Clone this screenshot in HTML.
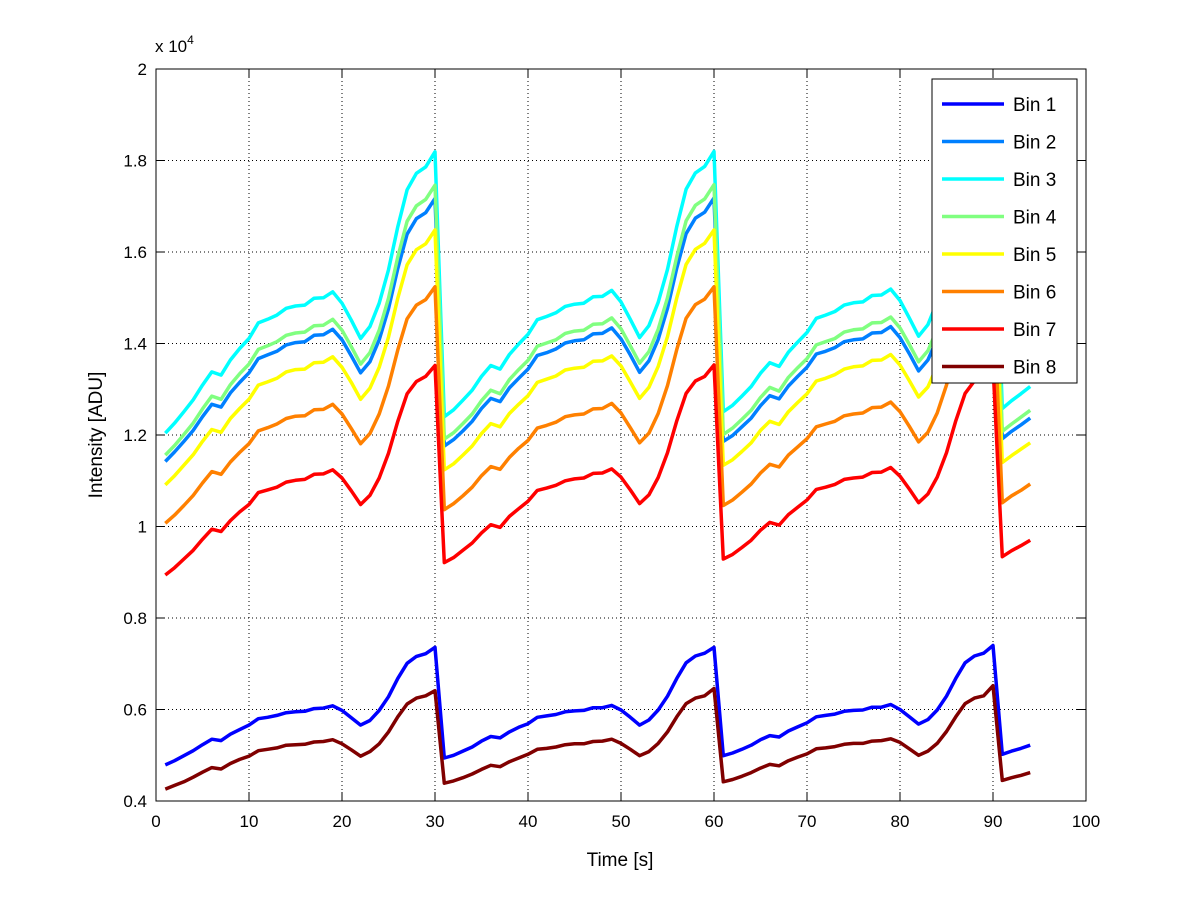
<!DOCTYPE html>
<html><head><meta charset="utf-8"><style>
html,body{margin:0;padding:0;background:#fff;}
svg{display:block;font-family:"Liberation Sans",sans-serif;}
</style></head><body>
<svg id="chart" width="1200" height="901" viewBox="0 0 1200 901">
<rect x="0" y="0" width="1200" height="901" fill="#fff"/>
<g id="grid"></g>
<g id="series"></g>
<g id="axes"></g>
<text x="155" y="52" font-size="17">x 10<tspan dy="-8" font-size="12">4</tspan></text>
<text x="620" y="866" font-size="19" text-anchor="middle">Time [s]</text>
<text x="0" y="0" font-size="19" text-anchor="middle" transform="translate(102,435) rotate(-90)">Intensity [ADU]</text>
<g id="legend"></g>
</svg>
<script>
const xTicks=[0,10,20,30,40,50,60,70,80,90,100];
const yTicks=[0.4,0.6,0.8,1,1.2,1.4,1.6,1.8,2];
const yTickLabels=["0.4","0.6","0.8","1","1.2","1.4","1.6","1.8","2"];
const binNames=["Bin 1","Bin 2","Bin 3","Bin 4","Bin 5","Bin 6","Bin 7","Bin 8"];
const bin1=[.479,.488,.499,.510,.523,.535,.532,.546,.556,.566,.580,.583,.587,.593,.595,.596,.602,.603,.608,.598,.582,.566,.576,.598,.628,.668,.701,.716,.722,.736,
.494,.500,.509,.518,.531,.541,.538,.551,.561,.569,.583,.586,.589,.595,.597,.598,.604,.604,.609,.599,.583,.566,.577,.599,.629,.668,.702,.717,.723,.736,
.499,.505,.513,.522,.534,.543,.540,.553,.562,.571,.584,.587,.590,.596,.598,.599,.605,.605,.611,.600,.584,.568,.578,.599,.629,.668,.702,.717,.723,.740,
.502,.509,.515,.522];
const bin2=[1.142,1.163,1.186,1.210,1.240,1.267,1.261,1.292,1.315,1.336,1.367,1.375,1.383,1.397,1.402,1.404,1.418,1.419,1.431,1.408,1.373,1.336,1.360,1.408,1.476,1.564,1.639,1.673,1.686,1.717,
1.176,1.190,1.209,1.230,1.258,1.280,1.273,1.303,1.324,1.344,1.374,1.380,1.388,1.401,1.406,1.408,1.421,1.422,1.434,1.410,1.375,1.337,1.362,1.409,1.477,1.565,1.640,1.674,1.687,1.718,
1.186,1.199,1.218,1.237,1.264,1.286,1.279,1.307,1.328,1.348,1.377,1.383,1.391,1.404,1.408,1.410,1.423,1.424,1.437,1.413,1.378,1.340,1.364,1.410,1.478,1.565,1.640,1.674,1.687,1.718,
1.192,1.208,1.222,1.237];
const bin3=[1.204,1.226,1.251,1.277,1.309,1.338,1.331,1.364,1.389,1.411,1.445,1.453,1.462,1.477,1.482,1.484,1.499,1.500,1.513,1.488,1.451,1.411,1.437,1.488,1.561,1.655,1.736,1.772,1.786,1.819,
1.240,1.255,1.276,1.298,1.328,1.352,1.344,1.376,1.399,1.420,1.452,1.459,1.467,1.481,1.486,1.488,1.502,1.503,1.516,1.491,1.453,1.413,1.439,1.490,1.562,1.656,1.737,1.773,1.787,1.820,
1.251,1.265,1.285,1.306,1.335,1.358,1.350,1.381,1.403,1.424,1.455,1.462,1.470,1.484,1.489,1.491,1.505,1.506,1.519,1.494,1.456,1.416,1.441,1.491,1.563,1.656,1.737,1.773,1.787,1.820,
1.258,1.275,1.290,1.306];
const bin4=[1.156,1.177,1.201,1.226,1.257,1.285,1.278,1.310,1.334,1.355,1.387,1.395,1.404,1.418,1.423,1.425,1.439,1.440,1.453,1.429,1.393,1.355,1.380,1.429,1.499,1.589,1.667,1.701,1.715,1.746,
1.191,1.205,1.225,1.246,1.275,1.298,1.290,1.321,1.343,1.363,1.394,1.401,1.408,1.422,1.427,1.429,1.442,1.443,1.456,1.432,1.395,1.357,1.382,1.431,1.500,1.590,1.668,1.702,1.716,1.747,
1.201,1.215,1.234,1.254,1.282,1.304,1.296,1.326,1.347,1.367,1.397,1.404,1.411,1.425,1.430,1.432,1.445,1.446,1.458,1.434,1.398,1.360,1.384,1.432,1.501,1.590,1.668,1.702,1.716,1.747,
1.208,1.224,1.239,1.254];
const bin5=[1.091,1.111,1.134,1.157,1.186,1.212,1.206,1.236,1.258,1.278,1.309,1.316,1.324,1.338,1.343,1.344,1.358,1.359,1.371,1.348,1.315,1.278,1.302,1.348,1.414,1.499,1.572,1.605,1.618,1.648,
1.124,1.137,1.156,1.176,1.203,1.225,1.218,1.247,1.267,1.286,1.315,1.322,1.329,1.342,1.346,1.348,1.361,1.362,1.373,1.351,1.316,1.280,1.304,1.350,1.415,1.500,1.573,1.606,1.619,1.648,
1.134,1.146,1.164,1.183,1.210,1.230,1.223,1.251,1.271,1.290,1.318,1.324,1.332,1.344,1.349,1.351,1.363,1.364,1.376,1.353,1.319,1.283,1.305,1.351,1.416,1.500,1.573,1.606,1.619,1.648,
1.140,1.155,1.169,1.183];
const bin6=[1.007,1.025,1.046,1.068,1.095,1.120,1.114,1.141,1.162,1.181,1.209,1.216,1.224,1.236,1.241,1.242,1.255,1.256,1.267,1.246,1.214,1.181,1.203,1.246,1.307,1.386,1.454,1.484,1.496,1.524,
1.037,1.050,1.067,1.086,1.111,1.131,1.125,1.151,1.171,1.188,1.215,1.221,1.228,1.240,1.244,1.246,1.257,1.258,1.269,1.248,1.216,1.183,1.204,1.247,1.308,1.387,1.455,1.485,1.497,1.524,
1.046,1.058,1.075,1.093,1.117,1.136,1.130,1.156,1.174,1.192,1.218,1.224,1.230,1.242,1.246,1.248,1.260,1.261,1.272,1.251,1.219,1.185,1.206,1.248,1.309,1.387,1.455,1.485,1.497,1.524,
1.052,1.067,1.079,1.093];
const bin7=[.894,.910,.929,.948,.972,.994,.989,1.013,1.032,1.048,1.074,1.080,1.086,1.097,1.101,1.103,1.114,1.115,1.124,1.106,1.078,1.048,1.068,1.106,1.160,1.230,1.290,1.317,1.328,1.352,
.921,.932,.948,.964,.986,1.004,.998,1.022,1.039,1.055,1.079,1.084,1.090,1.100,1.104,1.106,1.116,1.117,1.126,1.108,1.080,1.050,1.069,1.107,1.161,1.231,1.291,1.318,1.328,1.353,
.929,.939,.954,.970,.992,1.009,1.003,1.026,1.042,1.058,1.081,1.086,1.092,1.103,1.106,1.108,1.118,1.119,1.129,1.110,1.082,1.052,1.071,1.108,1.161,1.231,1.291,1.318,1.328,1.353,
.934,.947,.958,.970];
const bin8=[.426,.434,.442,.452,.463,.473,.470,.482,.491,.498,.510,.513,.516,.522,.523,.524,.529,.530,.534,.525,.512,.498,.508,.525,.551,.584,.612,.625,.630,.641,
.439,.444,.451,.459,.469,.478,.475,.486,.494,.502,.513,.515,.518,.523,.525,.525,.530,.531,.535,.526,.513,.499,.508,.526,.551,.584,.613,.625,.630,.646,
.442,.447,.454,.462,.472,.480,.477,.488,.496,.503,.514,.516,.519,.524,.526,.526,.531,.532,.536,.528,.514,.500,.509,.526,.552,.584,.613,.625,.630,.652,
.445,.451,.456,.462];
const allSeries=[bin1,bin2,bin3,bin4,bin5,bin6,bin7,bin8];
const colors=["#0000ff","#0080ff","#00ffff","#80ff80","#ffff00","#ff8000","#ff0000","#800000"];

const L=156,R=1086,T=69,B=801;
const xs=v=>L+(v-0)/(100-0)*(R-L);
const ys=v=>B-(v-0.4)/(2-0.4)*(B-T);
const NS="http://www.w3.org/2000/svg";
function mk(tag,attrs,parent){const e=document.createElementNS(NS,tag);for(const k in attrs)e.setAttribute(k,attrs[k]);parent.appendChild(e);return e;}
const grid=document.getElementById('grid'),axes=document.getElementById('axes'),series=document.getElementById('series'),legend=document.getElementById('legend');

xTicks.forEach((t,i)=>{
  const x=xs(t);
  if(t>0&&t<100){const g=mk('line',{x1:x,y1:T,x2:x,y2:B,stroke:'#000','stroke-width':1,'stroke-dasharray':'1,3'},grid);
  
  }
  const a=mk('line',{x1:x,y1:B,x2:x,y2:B-9,stroke:'#000','stroke-width':1},axes);
  
  
  const b=mk('line',{x1:x,y1:T,x2:x,y2:T+9,stroke:'#000','stroke-width':1},axes);
  
  
  const lb=mk('text',{x:x,y:B+26,'font-size':17,'text-anchor':'middle'},axes);
  lb.textContent=String(t);
  
  
});
yTicks.forEach((t,i)=>{
  const y=ys(t);
  if(i>0&&i<yTicks.length-1){const g=mk('line',{x1:L,y1:y,x2:R,y2:y,stroke:'#000','stroke-width':1,'stroke-dasharray':'1,3'},grid);
  
  }
  const a=mk('line',{x1:L,y1:y,x2:L+9,y2:y,stroke:'#000','stroke-width':1},axes);
  
  
  const b=mk('line',{x1:R,y1:y,x2:R-9,y2:y,stroke:'#000','stroke-width':1},axes);
  
  
  const lb=mk('text',{x:L-9,y:y+6,'font-size':17,'text-anchor':'end'},axes);
  lb.textContent=yTickLabels[i];
  
  
});
const box=mk('rect',{x:L,y:T,width:R-L,height:B-T,fill:'none',stroke:'#000','stroke-width':1},axes);



allSeries.forEach((arr,k)=>{
  const pts=arr.map((v,i)=>xs(i+1).toFixed(1)+','+ys(v).toFixed(1)).join(' ');
  const p=mk('polyline',{points:pts,fill:'none',stroke:colors[k],'stroke-width':3.5,'stroke-linejoin':'round'},series);
  
  
});

const lr=mk('rect',{x:932,y:79,width:145,height:304,fill:'#fff',stroke:'#000','stroke-width':1},legend);


binNames.forEach((n,k)=>{
  const y=104+k*37.5;
  const ln=mk('line',{x1:942,y1:y,x2:1004,y2:y,stroke:colors[k],'stroke-width':3.5},legend);
  
  
  const tx=mk('text',{x:1013,y:y+7,'font-size':19},legend);
  tx.textContent=n;
  
  
});
</script>
</body></html>
